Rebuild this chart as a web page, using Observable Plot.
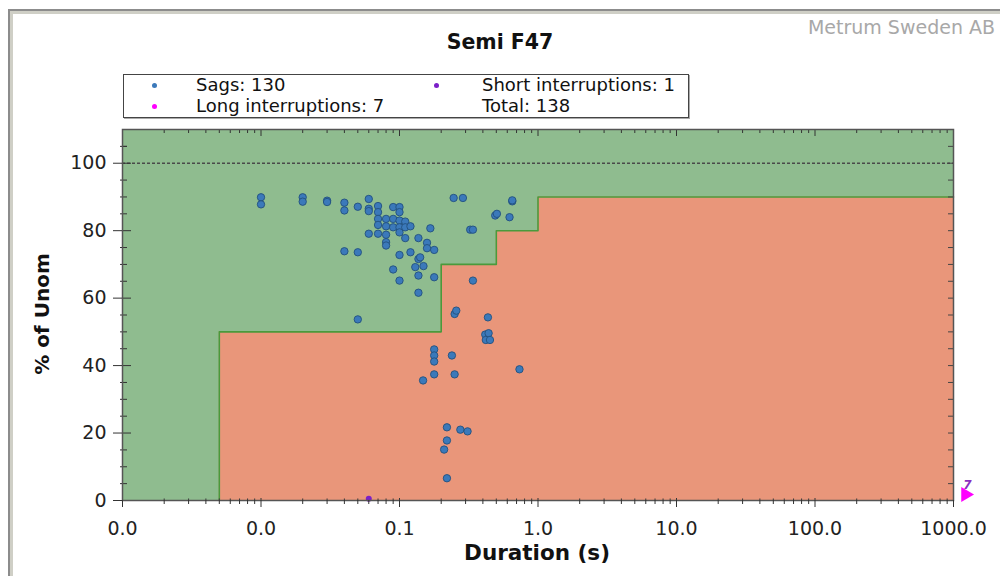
<!DOCTYPE html>
<html>
<head>
<meta charset="utf-8">
<script src="https://cdn.jsdelivr.net/npm/d3@7"></script>
<script src="https://cdn.jsdelivr.net/npm/@observablehq/plot@0.6"></script>
<style>
  html, body { margin: 0; padding: 0; background: #fff; }
  #page { position: relative; width: 1000px; height: 576px; overflow: hidden; font-family: "DejaVu Sans", sans-serif; }
  #border { position: absolute; left: 8px; top: 9px; width: 1100px; height: 700px;
            border-top: 2px solid #8c8c8c; border-left: 2px solid #8c8c8c;
            box-shadow: inset 3px 3px 0 #cfcfc6; }
  #chart { position: absolute; left: 0; top: 0; }
  .title { position: absolute; left: 0; width: 1000px; top: 30px; text-align: center;
           font-weight: bold; font-size: 20.5px; color: #111; }
  .brand { position: absolute; right: 5px; top: 16px; font-size: 19px; color: #a8a8a8; }
  #legend { position: absolute; left: 123px; top: 74px; width: 564px; height: 42px;
            border: 1px solid #444; box-shadow: 1px 1px 0 #aaa; background: #fff; }
  .item { position: absolute; font-size: 18px; color: #111; line-height: 20px; white-space: nowrap; }
  .sw { position: absolute; width: 5px; height: 5px; border-radius: 50%; }
  .ylab { position: absolute; left: 42px; top: 314px; transform: translate(-50%, -50%) rotate(-90deg);
          font-weight: bold; font-size: 20px; color: #111; white-space: nowrap; }
  .xlab { position: absolute; left: 537px; top: 552px; transform: translate(-50%, -50%);
          font-weight: bold; font-size: 21.5px; color: #111; white-space: nowrap; }
</style>
</head>
<body>
<div id="page">
  <div id="border"></div>
  <div id="chart"></div>
  <div class="brand">Metrum Sweden AB</div>
  <div class="title">Semi F47</div>
  <div id="legend"></div>
  <div class="ylab">% of Unom</div>
  <div class="xlab">Duration (s)</div>
</div>
<script>
// Event counts shown in the legend
const seriesNames = ["Sags", "Short interruptions", "Long interruptions"];
const seriesCounts = [130, 1, 7];
const seriesColors = ["#3b79ba", "#7b1fc8", "#ff00ff"];
const totalEvents = 138;

// Voltage sags: duration (s) and residual voltage (% of Unom)
const sagDuration = [
  0.01, 0.01, 0.02, 0.02, 0.03, 0.03,
  0.04, 0.04, 0.04, 0.05, 0.05, 0.05,
  0.06, 0.06, 0.06, 0.06,
  0.07, 0.07, 0.07, 0.07, 0.07,
  0.08, 0.08, 0.08, 0.08, 0.08,
  0.09, 0.09, 0.09, 0.09,
  0.1, 0.1, 0.1, 0.1, 0.1, 0.1, 0.1,
  0.11, 0.11, 0.11, 0.12, 0.12,
  0.137, 0.137, 0.137, 0.137, 0.141, 0.13, 0.149,
  0.158, 0.158, 0.167, 0.178, 0.178,
  0.148, 0.178, 0.178, 0.178, 0.178,
  0.21, 0.22, 0.22, 0.22, 0.239,
  0.246, 0.25, 0.25, 0.257, 0.275, 0.287, 0.31,
  0.324, 0.339, 0.339,
  0.416, 0.435, 0.44, 0.42, 0.45,
  0.491, 0.505, 0.623, 0.652, 0.652, 0.735
];
const sagPercent = [
  89.9, 87.8, 89.9, 88.6, 88.9, 88.5,
  88.3, 86.0, 73.9, 87.1, 73.6, 53.7,
  89.4, 86.5, 85.8, 79.1,
  87.3, 85.5, 83.5, 81.7, 79.1,
  83.5, 81.3, 78.8, 76.6, 75.6,
  87.0, 83.5, 81.0, 68.5,
  87.0, 85.5, 83.0, 81.0, 79.5, 72.8, 65.2,
  82.7, 81.0, 77.8, 81.3, 73.6,
  77.8, 71.6, 66.7, 61.6, 72.1, 69.2, 69.5,
  76.4, 74.8, 80.7, 74.3, 66.2,
  35.6, 44.8, 43.0, 41.2, 37.4,
  15.1, 21.7, 17.8, 6.6, 43.0,
  89.7, 37.4, 55.3, 56.3, 21.0, 89.7, 20.5,
  80.3, 80.3, 65.2,
  49.2, 54.3, 49.6, 47.6, 47.6,
  84.5, 85.0, 84.0, 88.7, 89.0, 38.9
];

// Short interruptions
const shortDuration = [0.06];
const shortPercent = [0.5];

// Long interruptions lie beyond the axis and are shown as a counted flag
const longCount = 7;

// SEMI F47 ride-through curve (step boundary)
const curveDuration = [0.005, 0.2, 0.5, 1, 1000];
const curvePercent = [50, 70, 80, 90, 90];

// Axis ticks
const xTicks = [0.001, 0.01, 0.1, 1, 10, 100, 1000];
const yTicks = [0, 20, 40, 60, 80, 100];

const sags = sagDuration.map((d, i) => ({d, p: sagPercent[i]}));
const shorts = shortDuration.map((d, i) => ({d, p: shortPercent[i]}));
const curve = curveDuration.map((d, i) => ({d, p: curvePercent[i]}));
const boundary = [{d: curveDuration[0], p: 0}, ...curve];
const longFlag = [{d: 1000, p: 0, n: String(longCount)}];

const minorX = d3.range(-3, 3).flatMap(e => d3.range(2, 10).map(k => k * 10 ** e));
const minorY = d3.range(5, 110, 5).filter(v => v % 20 !== 0);
const allY = d3.range(0, 111, 5);

// Plot area: 122..953 horizontally, 129..500 vertically
const pxX = 831 / 6;          // pixels per decade
const pxY = 371 / 110;        // pixels per percent
const xIn = px => 10 ** (px / pxX);

const chart = Plot.plot({
  width: 1000,
  height: 576,
  marginLeft: 122,
  marginRight: 47,
  marginTop: 129,
  marginBottom: 76,
  style: {background: "transparent", fontFamily: "DejaVu Sans, sans-serif", fontSize: "19px", color: "#222", overflow: "visible"},
  x: {type: "log", domain: [0.001, 1000], axis: null},
  y: {domain: [0, 110], axis: null},
  marks: [
    Plot.frame({fill: "darkseagreen", stroke: null}),
    Plot.areaY(curve, {x: "d", y: "p", curve: "step-after", fill: "darksalmon"}),
    Plot.line(boundary, {x: "d", y: "p", curve: "step-after", stroke: "#4a9a3c", strokeWidth: 1.6}),
    Plot.ruleY([100], {stroke: "#4a4a4a", strokeDasharray: "3,2", strokeWidth: 1.3}),

    // inner tick marks on all four sides
    Plot.ruleX(xTicks, {y1: 0, y2: 2 / pxY, stroke: "#333"}),
    Plot.ruleX(minorX, {y1: 0, y2: 1.5 / pxY, stroke: "#333"}),
    Plot.ruleX(xTicks, {y1: 110, y2: 110 - 7 / pxY, stroke: "#333"}),
    Plot.ruleX(minorX, {y1: 110, y2: 110 - 4 / pxY, stroke: "#333"}),
    Plot.ruleY(yTicks, {x1: 0.001, x2: 0.001 * xIn(9), stroke: "#333"}),
    Plot.ruleY(minorY, {x1: 0.001, x2: 0.001 * xIn(5), stroke: "#333"}),
    Plot.ruleY([105], {x1: 0.001, x2: 0.001 * xIn(5), stroke: "#333"}),
    Plot.ruleY(allY, {x1: 1000 / xIn(5), x2: 1000, stroke: "#444"}),

    Plot.dot(sags, {x: "d", y: "p", r: 3.7, fill: seriesColors[0], stroke: "#22507e", strokeWidth: 0.9}),
    Plot.dot(shorts, {x: "d", y: "p", r: 3, fill: seriesColors[1]}),

    Plot.dot(longFlag, {x: "d", y: "p", symbol: "triangle", rotate: 90, r: 5.5, fill: seriesColors[2], dx: 12, dy: -6}),
    Plot.text(longFlag, {x: "d", y: "p", text: "n", dx: 14, dy: -15, fill: "#8a2ec0", fontSize: 12, fontWeight: "bold", fontStyle: "italic"}),

    Plot.frame({stroke: "#555", strokeWidth: 1.5}),

    // outer axes
    Plot.axisX({ticks: xTicks, tickSize: 7, tickPadding: 14, tickFormat: d3.format(".1f"), label: null, stroke: "#333", fill: "#222"}),
    Plot.axisX({ticks: minorX, tickSize: 4, tickFormat: () => "", label: null, stroke: "#333"}),
    Plot.axisY({ticks: yTicks, tickSize: 9, tickPadding: 7, label: null, stroke: "#333", fill: "#222"}),
    Plot.axisY({ticks: minorY, tickSize: 2, tickFormat: () => "", label: null, stroke: "#333"})
  ]
});
document.getElementById("chart").appendChild(chart);

// Legend
const legend = document.getElementById("legend");
const entries = [
  {color: seriesColors[0], text: `${seriesNames[0]}: ${seriesCounts[0]}`, sx: 30, tx: 72, y: 10},
  {color: seriesColors[1], text: `${seriesNames[1]}: ${seriesCounts[1]}`, sx: 312, tx: 358, y: 10},
  {color: seriesColors[2], text: `${seriesNames[2]}: ${seriesCounts[2]}`, sx: 30, tx: 72, y: 31},
  {color: null, text: `Total: ${totalEvents}`, sx: 0, tx: 358, y: 31}
];
for (const e of entries) {
  if (e.color) {
    const sw = document.createElement("div");
    sw.className = "sw";
    sw.style.left = (e.sx - 2.5) + "px";
    sw.style.top = (e.y - 2.5) + "px";
    sw.style.background = e.color;
    legend.appendChild(sw);
  }
  const t = document.createElement("div");
  t.className = "item";
  t.style.left = e.tx + "px";
  t.style.top = (e.y - 10) + "px";
  t.textContent = e.text;
  legend.appendChild(t);
}
</script>
</body>
</html>
